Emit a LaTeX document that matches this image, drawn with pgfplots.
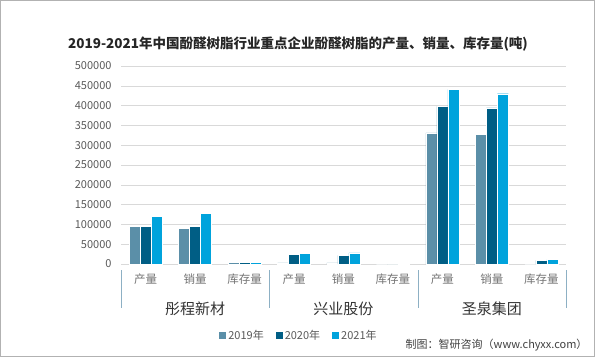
\documentclass[border=0pt]{standalone}
\usepackage{pgfplots}
\pgfplotsset{compat=1.18}
\usepackage{fontspec}
\setmainfont{Noto Sans CJK SC}
\definecolor{cA}{HTML}{5B8FA8}
\definecolor{cB}{HTML}{005E85}
\definecolor{cC}{HTML}{00A3DC}
\definecolor{tickc}{HTML}{595959}
\definecolor{gridc}{HTML}{D9D9D9}
\definecolor{sepc}{HTML}{8DB0C4}
\begin{document}
\begin{tikzpicture}[x=1pt,y=1pt]
\path[use as bounding box] (0,0) rectangle (595,357);
\draw[gray!60, line width=0.8pt] (0.5,0.5) rectangle (594.5,356.5);
\node[font=\bfseries\fontsize{13.5}{15}\selectfont, text=black!85] at (298,313) {2019-2021年中国酚醛树脂行业重点企业酚醛树脂的产量、销量、库存量(吨)};
\begin{axis}[
  at={(121pt,93pt)}, anchor=south west, scale only axis,
  width=445pt, height=198pt,
  xmin=-0.5, xmax=8.5, ymin=0, ymax=500000,
  ybar=0pt, bar width=11pt,
  axis x line*=bottom, axis y line*=left,
  y axis line style={draw=none},
  x axis line style={draw=gridc, line width=0.8pt},
  ymajorgrids, grid style={draw=gridc, line width=0.6pt},
  major tick length=0pt,
  ytick={0,50000,100000,150000,200000,250000,300000,350000,400000,450000,500000},
  scaled y ticks=false,
  yticklabel style={/pgf/number format/fixed, /pgf/number format/1000 sep={}, /pgf/number format/assume math mode=true, font=\fontsize{11}{12}\selectfont, text=tickc, xshift=-6pt},
  xtick={0,1,2,3,4,5,6,7,8},
  xticklabels={产量,销量,库存量,产量,销量,库存量,产量,销量,库存量},
  xticklabel style={font=\fontsize{11.5}{13}\selectfont, text=tickc!85, yshift=-6pt},
  legend columns=3,
  legend style={at={(0.40,-0.36)}, anchor=center, draw=none, fill=none, font=\fontsize{11}{13}\selectfont, text=tickc, /tikz/every even column/.append style={column sep=10pt}},
  legend image code/.code={\fill[#1, draw=none] (0pt,-3.5pt) rectangle (7pt,3.5pt);},
  clip=false,
]
\addplot[fill=cA, draw=white, line width=0.4pt] coordinates {(0,95000) (1,90000) (2,5000) (3,3000) (4,3000) (5,0) (6,331000) (7,327000) (8,0)};
\addplot[fill=cB, draw=white, line width=0.4pt] coordinates {(0,95000) (1,95000) (2,4000) (3,25000) (4,22000) (5,0) (6,398000) (7,394000) (8,9000)};
\addplot[fill=cC, draw=white, line width=0.4pt] coordinates {(0,120000) (1,128000) (2,5000) (3,27000) (4,28000) (5,2000) (6,441000) (7,430000) (8,11000)};
\legend{2019年,2020年,2021年}
\node[font=\fontsize{15}{17}\selectfont, text=black!80] at (axis cs:1,0) [yshift=-45pt] {彤程新材};
\node[font=\fontsize{15}{17}\selectfont, text=black!80] at (axis cs:4,0) [yshift=-45pt] {兴业股份};
\node[font=\fontsize{15}{17}\selectfont, text=black!80] at (axis cs:7,0) [yshift=-45pt] {圣泉集团};
\end{axis}
\foreach \xx in {121,269,418,566} {\draw[sepc, line width=0.8pt] (\xx,87) -- (\xx,49);}
\node[anchor=east, font=\fontsize{11}{13}\selectfont, text=black!75] at (591,12) {制图：智研咨询（www.chyxx.com）};
\end{tikzpicture}
\end{document}
